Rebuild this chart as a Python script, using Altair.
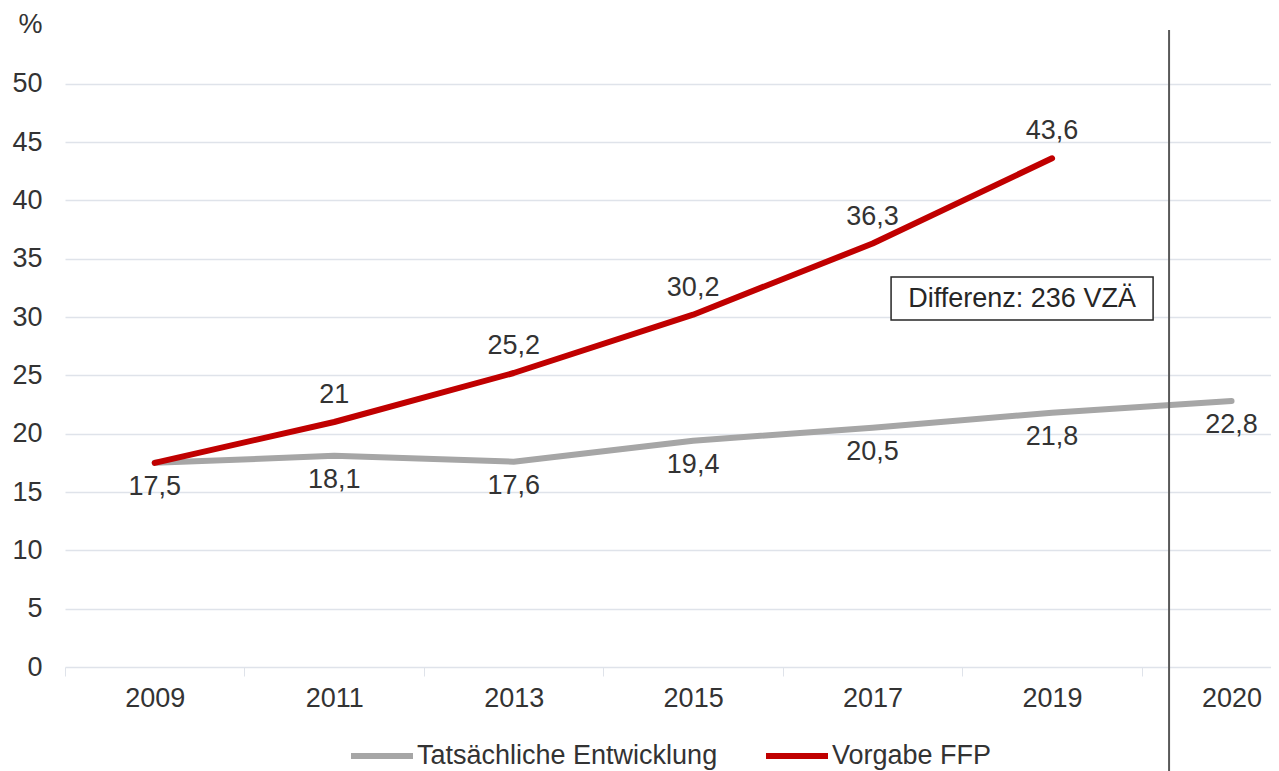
import altair as alt
import pandas as pd

years = ["2009", "2011", "2013", "2015", "2017", "2019", "2020"]
actual = [17.5, 18.1, 17.6, 19.4, 20.5, 21.8, 22.8]
target = [17.5, 21.0, 25.2, 30.2, 36.3, 43.6]

s_actual = "Tatsächliche Entwicklung"
s_target = "Vorgabe FFP"
series_order = [s_actual, s_target]
series_colors = ["#A6A6A6", "#C00000"]

y_ticks = [0, 5, 10, 15, 20, 25, 30, 35, 40, 45, 50]

divider_pos = 5.652          # between 2019 and 2020 (category index units)
box_x = [4.103, 5.563]       # annotation box, category index units
box_y = [29.74, 33.43]       # annotation box, % units
box_text = "Differenz: 236 VZÄ"

FONT = "Liberation Sans"
TXT = "#333333"
GRID = "#DFE3EA"

rows = []
for i, v in enumerate(actual):
    rows.append({"idx": i, "year": years[i], "value": v, "series": s_actual})
for i, v in enumerate(target):
    rows.append({"idx": i, "year": years[i], "value": v, "series": s_target})
df = pd.DataFrame(rows)

xscale = alt.Scale(domain=[-0.5, 6.22], nice=False, zero=False)
yscale = alt.Scale(domain=[0, 54.6], nice=False, zero=True)

tick_vals = []
for i in range(len(years)):
    tick_vals.append(i - 0.5)
    tick_vals.append(i)
label_arr = "[" + ",".join("'" + y + "'" for y in years) + "]"

x_axis = alt.Axis(
    values=tick_vals,
    labelExpr=f"datum.value % 1 === 0 ? {label_arr}[datum.value] : ''",
    domain=False, grid=False,
    tickSize=9, tickColor=GRID, tickWidth=1,
    tickOpacity={"condition": {"test": "datum.value % 1 !== 0", "value": 1}, "value": 0},
    labelFontSize=27, labelColor=TXT, labelPadding=22, labelBaseline="middle",
    labelFlush=False, labelOverlap=False, labelBound=False,
    title=None,
)
y_axis = alt.Axis(
    values=y_ticks, domain=False, ticks=False, grid=True,
    gridColor=GRID, gridWidth=1.5,
    labelFontSize=27, labelColor=TXT, labelPadding=23,
    title="%", titleAngle=0, titleX=-23, titleY=-6, titleAlign="right",
    titleBaseline="middle", titleFontSize=27, titleFontWeight="normal",
    titleColor=TXT,
)

base = alt.Chart(df)

lines = base.mark_line(strokeWidth=6, strokeCap="round", strokeJoin="round").encode(
    x=alt.X("idx:Q", scale=xscale, axis=x_axis),
    y=alt.Y("value:Q", scale=yscale, axis=y_axis),
    color=alt.Color(
        "series:N",
        scale=alt.Scale(domain=series_order, range=series_colors),
        legend=alt.Legend(
            title=None, orient="none", legendX=283, legendY=692,
            direction="horizontal", symbolType="stroke", symbolStrokeWidth=6,
            symbolSize=3844, labelFontSize=27, labelColor=TXT, labelOffset=1,
            columnPadding=36, labelLimit=600,
        ),
    ),
    order=alt.Order("idx:Q"),
)

lab_actual = base.transform_filter(alt.datum.series == s_actual).transform_calculate(
    lab="replace(toString(datum.value), '.', ',')"
).mark_text(fontSize=27, color=TXT, dy=24, baseline="middle").encode(
    x=alt.X("idx:Q", scale=xscale), y=alt.Y("value:Q", scale=yscale), text="lab:N"
)

lab_target = base.transform_filter(
    (alt.datum.series == s_target) & (alt.datum.idx > 0)
).transform_calculate(
    lab="replace(toString(datum.value), '.', ',')"
).mark_text(fontSize=27, color=TXT, dy=-27, baseline="middle").encode(
    x=alt.X("idx:Q", scale=xscale), y=alt.Y("value:Q", scale=yscale), text="lab:N"
)

div_df = pd.DataFrame({"x": [divider_pos]})
divider = alt.Chart(div_df).mark_rule(color="#595959", strokeWidth=2).encode(
    x=alt.X("x:Q", scale=xscale),
    y=alt.value(0),
    y2=alt.value(800),
)

box_df = pd.DataFrame({
    "x0": [box_x[0]], "x1": [box_x[1]], "y0": [box_y[0]], "y1": [box_y[1]],
    "t": [box_text],
})
box = alt.Chart(box_df).mark_rect(fill="white", stroke="#262626", strokeWidth=1.5).encode(
    x=alt.X("x0:Q", scale=xscale), x2="x1:Q",
    y=alt.Y("y0:Q", scale=yscale), y2="y1:Q",
)
box_label = alt.Chart(box_df).transform_calculate(
    xm="(datum.x0 + datum.x1) / 2", ym="(datum.y0 + datum.y1) / 2"
).mark_text(fontSize=27, color="#262626", baseline="middle").encode(
    x=alt.X("xm:Q", scale=xscale), y=alt.Y("ym:Q", scale=yscale), text="t:N"
)

chart = alt.layer(lines, lab_actual, lab_target, box, box_label, divider).properties(
    width=1206, height=637,
    padding={"left": 57, "top": 22, "right": 0, "bottom": 104},
    autosize=alt.AutoSizeParams(type="none"),
).configure(font=FONT).configure_view(stroke=None)

chart.save("out.html", embed_options={"renderer": "svg", "actions": False})
